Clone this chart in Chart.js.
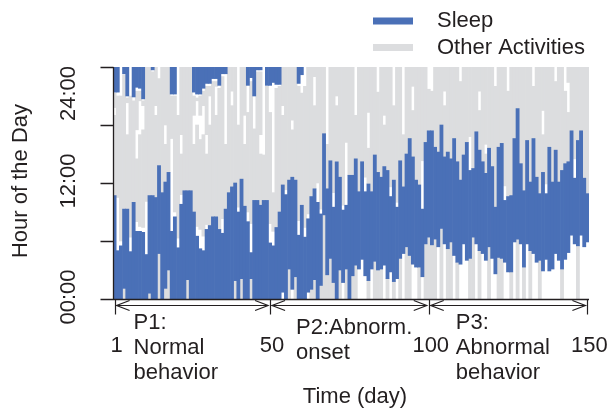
<!DOCTYPE html>
<html>
<head>
<meta charset="utf-8">
<script src="https://cdn.jsdelivr.net/npm/chart.js@4.4.1/dist/chart.umd.min.js"></script>
<style>
  html, body { margin: 0; padding: 0; background: #ffffff; }
  #wrap { width: 613px; height: 408px; position: relative; }
</style>
</head>
<body>
<div id="wrap"><canvas id="c" width="613" height="408"></canvas></div>
<script>
// Daily activity record, 150 days; all values in hours of the day (0-24).
const days = Array.from({ length: 150 }, (_, i) => String(i + 1));

// Main sleep bout of each day: start and end hour.
const sleepStart = [
  0,0,0,1.1,0,0,0,0,0,0, 0,0.6,0,0,4.7,0,1.1,3.0,0,0, 0,0,0,2.0,0,0,0,0,0,0, 0,0,0,0,0,0,0,0,1.9,0, 2.1,0,0,2.1,0,0,0,0,0,0,
  0,0,0,0.7,0,3.1,1.0,2.3,0,0, 0,0.7,1.0,2.0,0,1.4,8.7,2.5,4.2,1.7, 0,3.0,1.7,3.1,0,2.4,3.5,3.1,4.1,2.4, 1.9,3.1,3.9,3.0,3.1,3.5,2.1,2.8,1.8,2.1, 4.2,4.7,5.4,4.5,3.6,3.3,3.3,2.3,5.7,6.4,
  5.6,6.2,5.4,7.3,5.7,5.2,5.9,4.5,3.8,3.6, 5.7,4.0,4.2,6.4,5.7,5.0,4.7,4.0,5.4,4.2, 2.6,4.3,4.2,3.8,2.8,2.8,5.9,6.2,5.7,3.3, 5.7,5.0,4.7,3.8,4.0,2.9,4.1,2.9,3.1,4.7, 4.0,3.1,4.1,4.8,6.6,5.7,5.5,6.6,5.4,5.9
];
const sleepEnd = [
  10.7,5.0,5.5,9.3,9.3,4.9,10.0,7.0,7.0,6.9, 4.6,10.7,10.7,10.5,13.8,11.0,12.1,13.1,7.0,8.5, 5.3,9.8,11.2,11.2,11.2,9.0,6.5,5.2,5.0,7.2, 7.6,8.5,8.5,7.2,6.8,9.3,11.0,11.6,12.0,9.0, 12.4,9.6,8.0,4.8,10.2,10.2,9.7,10.2,10.2,5.8,
  5.5,7.4,9.0,11.8,10.8,12.3,12.6,12.3,6.6,9.7, 6.4,8.3,10.6,11.4,10.0,8.8,17.1,11.4,14.3,9.5, 14.2,12.6,9.2,9.7,12.8,12.8,14.5,11.1,14.2,11.1, 11.9,11.1,14.9,13.1,12.6,13.7,13.3,10.6,12.3,9.5, 14.3,11.6,15.0,16.6,14.7,12.3,11.8,9.3,16.2,17.4,
  17.4,15.7,15.2,18.0,14.7,15.2,14.5,16.6,14.2,12.3, 14.9,16.2,13.3,13.5,17.3,15.4,14.2,13.0,15.6,13.7, 9.5,15.7,16.1,10.2,10.6,10.7,16.6,19.7,14.0,11.2, 16.4,12.1,16.6,12.6,10.9,13.1,10.9,15.7,12.1,15.4, 12.1,13.3,14.0,14.2,17.4,12.5,16.4,17.4,12.5,10.9
];
// Evening sleep onset (sleep runs on to midnight); 24 = none that day.
const eveningSleep = [
  21.4,21.4,24,23.3,21.0,24,20.9,21.9,21.8,20.7, 24,24,23.7,24,24,24,24,24,21.2,21.2, 24,24,24,24,24,21.4,21.2,21.2,21.8,22.3, 22.3,22.8,22.8,22.1,23.3,23.3,24,24,24,24, 24,24,22.1,22.9,21.0,23.7,23.7,24,22.1,22.1,
  22.4,22.2,22.2,24,24,24,24,24,22.3,23.2, 24,24,24,24,24,24,24,24,24,24, 24,24,24,24,24,24,24,24,24,24, 24,24,24,24,24,24,24,24,24,24, 24,24,24,24,24,24,24,24,24,24,
  24,24,24,24,24,24,24,24,24,24, 24,24,24,24,24,24,24,24,24,24, 24,24,24,24,24,24,24,24,24,24, 24,24,24,24,24,24,24,24,24,24, 24,24,24,24,24,24,24,24,24,24
];
// Other activities before the main sleep: from midnight up to this hour; 0 = none recorded.
const earlyOther = [
  0,0,0,1.1,0,0,0,0,0,0, 0,0.6,0,0,4.7,0,1.1,3.0,0,0, 0,0,0,2.0,0,0,0,0,0,0, 0,0,0,0,0,0,0,0,1.9,0, 2.1,0,0,2.1,0,0,0,0,0,0,
  0,0,0,0,0,3.1,0,2.3,0,0, 0,0,1.0,2.0,0,1.4,8.7,2.5,4.2,1.7, 0,3.0,0,3.1,0,2.4,3.5,0,0,0, 1.9,0,3.9,3.0,3.1,0,2.1,0,1.8,0, 4.2,0,5.4,4.5,0,0,3.3,0,5.7,6.4,
  5.6,6.2,0,7.3,0,5.2,5.9,0,3.8,0, 0,0,4.2,6.4,0,5.0,0,0,5.4,0, 0,4.3,4.2,0,0,2.8,0,6.2,0,3.3, 0,5.0,0,0,4.0,0,0,0,0,0, 0,3.1,0,0,0,0,5.5,0,0,0
];
// Other activities after the main sleep: start and end hour.
const otherFrom = [
  10.7,10.5,6.0,9.3,9.3,6.4,10.0,8.0,7.5,7.4, 10.1,10.7,10.7,10.5,13.8,11.0,12.1,13.1,16.6,9.0, 6.3,10.8,11.2,11.2,11.2,9.0,7.5,7.2,6.5,7.7, 7.6,8.5,8.5,7.2,8.3,9.3,11.0,11.6,12.0,9.5, 12.4,9.6,9.0,7.8,10.2,10.2,9.7,10.2,10.2,7.8,
  7.0,7.4,9.0,11.8,11.3,12.3,12.6,12.3,8.1,9.7, 7.4,8.8,10.6,11.4,12.0,9.3,17.1,11.4,14.3,11.0, 14.2,12.6,9.7,16.2,12.8,12.8,14.5,11.1,14.2,12.6, 11.9,11.1,14.9,13.1,12.6,13.7,13.3,11.6,12.3,10.0, 14.3,11.6,15.0,16.6,14.7,12.3,11.8,14.3,16.2,17.4,
  17.4,15.7,15.2,18.0,14.7,15.2,14.5,16.6,14.2,12.3, 14.9,16.2,16.8,13.5,17.3,15.4,14.2,13.0,15.6,13.7, 9.5,15.7,16.1,11.7,10.6,10.7,16.6,19.7,14.0,11.2, 16.4,12.1,16.6,12.6,10.9,13.1,11.9,15.7,12.1,15.4, 12.1,13.3,14.0,14.2,17.4,14.5,16.4,17.4,12.5,10.9
];
const otherTo = [
  21.3,21.0,21.0,23.2,20.8,21.0,20.5,21.5,21.5,20.5, 24,24,23.5,24,22.8,24,24,24,21.0,21.0, 19.0,24,24,24,24,21.0,20.8,21.0,21.5,22.0, 22.0,22.5,22.5,21.8,23.0,16.0,24,24,24,18.0, 24,24,19.3,22.5,17.6,23.5,23.5,14.9,22.0,19.3,
  11.0,21.8,22.0,24,24,24,24,24,22.0,21.3, 22.0,24,24,24,24,24,24,16.0,24,24, 24,24,24,24,24,24,19.0,24,24,24, 24,24,24,21.4,24,24,24,24,20.0,24, 24,17.0,24,24,24,24,24,24,24,21.7,
  21.5,24,24,24,24,24,24,24,24,22.5, 24,24,24,24,24,24,24,24,24,24, 22.0,24,24,24,21.5,24,24,24,24,24, 24,24,22.0,24,24,24,24,24,24,22.5, 24,24,21.5,24,24,24,24,24,24,24
];
// Unrecorded stretches inside the daytime activity: [day, from hour, to hour].
const unrecorded = [
  [1,19,19.8],[5,17,20.3],[8,14.5,17.5],[9,17,20.5],[10,17.5,20],[14,19,20],[17,16,18],[22,15,17],
  [26,16,19],[27,18,20.5],[28,16.5,19],[29,17,20],[30,15,17],[31,18,21],[33,19,22],[38,20,21.5],
  [42,16,19],[47,15,17],
  [54,19,20],[57,17.5,18.5],[64,20,23],[71,20,21],[81,15.6,19.3],[86,18,19],[95,19.5,22],
  [105,20,21.5],[116,19.5,21.5],[118,15,16],[136,17,19.5],[144,19.3,22.4]
];

// Axis and annotation text.
const hourTicks = [0, 6, 12, 18, 24];
const hourLabels = { 0: '00:00', 12: '12:00', 24: '24:00' };
const dayMarks = [1, 50, 100, 150];
const periods = [
  { from: 1, to: 50, lines: ['P1:', 'Normal', 'behavior'] },
  { from: 50, to: 100, lines: ['P2:Abnorm.', 'onset'] },
  { from: 100, to: 150, lines: ['P3:', 'Abnormal', 'behavior'] }
];

const SLEEP = '#4a70b7';
const OTHER = '#dcdddf';
const INK = '#231f20';
const FONT = '22px "Liberation Sans", Arial, Helvetica, sans-serif';

// Split the daytime activity around any unrecorded stretch.
const holeOf = {};
unrecorded.forEach(([d, a, b]) => { holeOf[d - 1] = [a, b]; });
const otherMainA = days.map((_, i) => {
  const h = holeOf[i];
  const top = h ? h[0] : otherTo[i];
  return top > otherFrom[i] ? [otherFrom[i], top] : null;
});
const otherMainB = days.map((_, i) => {
  const h = holeOf[i];
  return h && otherTo[i] > h[1] ? [h[1], otherTo[i]] : null;
});

const barBase = { barPercentage: 1, categoryPercentage: 1, borderWidth: 0, borderSkipped: false };

const data = {
  labels: days,
  datasets: [
    Object.assign({ label: 'Sleep', backgroundColor: SLEEP,
      data: days.map((_, i) => [sleepStart[i], sleepEnd[i]]) }, barBase),
    Object.assign({ label: 'Sleep (evening)', backgroundColor: SLEEP,
      data: days.map((_, i) => eveningSleep[i] < 24 ? [eveningSleep[i], 24] : null) }, barBase),
    Object.assign({ label: 'Other Activities', backgroundColor: OTHER, data: otherMainA }, barBase),
    Object.assign({ label: 'Other Activities (late)', backgroundColor: OTHER, data: otherMainB }, barBase),
    Object.assign({ label: 'Other Activities (early)', backgroundColor: OTHER,
      data: days.map((_, i) => earlyOther[i] > 0 ? [0, earlyOther[i]] : null) }, barBase)
  ]
};

// Axes, period arrows, titles and legend.
const frame = {
  id: 'frame',
  afterDraw(chart) {
    const { ctx, chartArea: a, scales: { x, y } } = chart;
    ctx.save();
    ctx.strokeStyle = INK;
    ctx.lineWidth = 1.3;
    ctx.lineCap = 'butt';

    // value axis with tick marks
    ctx.beginPath();
    const lx = Math.round(a.left) + 0.5;
    ctx.moveTo(lx, y.getPixelForValue(24));
    ctx.lineTo(lx, y.getPixelForValue(0));
    hourTicks.forEach(h => {
      const py = Math.round(y.getPixelForValue(h)) + 0.5;
      ctx.moveTo(lx - 13, py);
      ctx.lineTo(lx, py);
    });
    // time axis baseline
    const by = Math.round(y.getPixelForValue(0)) + 0.5;
    ctx.moveTo(lx, by);
    ctx.lineTo(a.right, by);
    ctx.stroke();

    ctx.fillStyle = INK;
    ctx.font = FONT;

    // hour labels, written along the axis and kept inside its top end
    Object.keys(hourLabels).forEach(k => {
      const h = Number(k);
      const txt = hourLabels[k];
      const w = ctx.measureText(txt).width;
      let cy = y.getPixelForValue(h);
      cy = Math.max(cy - 2, a.top + w / 2 - 1);
      ctx.save();
      ctx.translate(69, cy);
      ctx.rotate(-Math.PI / 2);
      ctx.textAlign = 'center';
      ctx.textBaseline = 'middle';
      ctx.fillText(txt, 0, 0);
      ctx.restore();
    });

    // value axis title
    ctx.save();
    ctx.translate(21, (a.top + a.bottom) / 2 - 2);
    ctx.rotate(-Math.PI / 2);
    ctx.textAlign = 'center';
    ctx.textBaseline = 'middle';
    ctx.fillText('Hour of the Day', 0, 0);
    ctx.restore();

    // period arrows
    const ay = by + 6;
    ctx.lineWidth = 1.2;
    ctx.beginPath();
    dayMarks.forEach(d => {
      const px = Math.round(x.getPixelForValue(d - 1)) + 0.5;
      ctx.moveTo(px, by);
      ctx.lineTo(px, by + 15);
    });
    periods.forEach(p => {
      const x1 = x.getPixelForValue(p.from - 1) + 2;
      const x2 = x.getPixelForValue(p.to - 1) - 2;
      ctx.moveTo(x1, ay);
      ctx.lineTo(x2, ay);
      ctx.moveTo(x1 + 13, ay - 5);
      ctx.lineTo(x1, ay);
      ctx.lineTo(x1 + 13, ay + 5);
      ctx.moveTo(x2 - 13, ay - 5);
      ctx.lineTo(x2, ay);
      ctx.lineTo(x2 - 13, ay + 5);
    });
    ctx.stroke();

    // day numbers
    ctx.textAlign = 'center';
    ctx.textBaseline = 'middle';
    dayMarks.forEach(d => {
      ctx.fillText(String(d), x.getPixelForValue(d - 1) + 2, by + 46);
    });

    // period descriptions
    ctx.textAlign = 'left';
    const insets = [19, 26, 27];
    const firstLine = [23, 28, 23];
    periods.forEach((p, k) => {
      const px = x.getPixelForValue(p.from - 1) + insets[k];
      p.lines.forEach((ln, j) => {
        ctx.fillText(ln, px, by + firstLine[k] + j * 25);
      });
    });

    // time axis title
    ctx.textAlign = 'center';
    ctx.fillText('Time (day)', (a.left + a.right) / 2 + 4, by + 97);

    // legend
    const legend = [['Sleep', SLEEP, 21], ['Other Activities', OTHER, 47.5]];
    legend.forEach(([name, col, ly]) => {
      ctx.fillStyle = col;
      ctx.fillRect(373, ly - 3.5, 40, 7);
      ctx.fillStyle = INK;
      ctx.textAlign = 'left';
      ctx.fillText(name, 437, ly);
    });
    ctx.restore();
  }
};

new Chart(document.getElementById('c'), {
  type: 'bar',
  data,
  options: {
    responsive: false,
    animation: false,
    devicePixelRatio: 1,
    layout: { padding: { left: 113, right: 24, top: 67, bottom: 109 } },
    scales: {
      x: { display: false, stacked: true, offset: true, grid: { display: false } },
      y: { display: false, stacked: false, min: 0, max: 24, grid: { display: false } }
    },
    plugins: { legend: { display: false }, tooltip: { enabled: false } }
  },
  plugins: [frame]
});
</script>
</body>
</html>
